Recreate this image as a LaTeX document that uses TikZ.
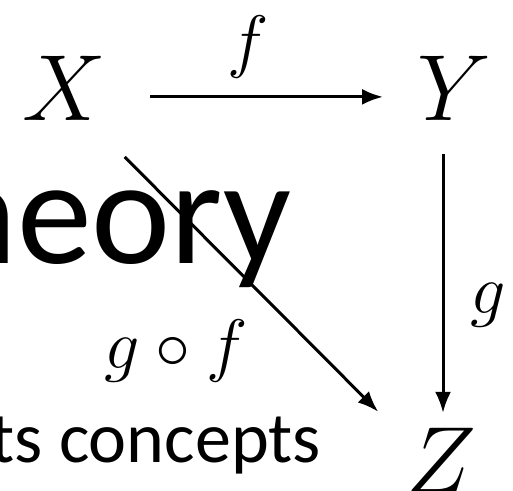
\RequirePackage{fix-cm}
\documentclass[tikz,border=0pt]{standalone}
\usepackage{fontspec}
\newfontfamily\carl{Carlito}
\usetikzlibrary{arrows.meta}
\tikzset{
  obj/.style={inner sep=0pt, anchor=base, font=\fontsize{94}{100}\selectfont},
  lab/.style={inner sep=0pt, anchor=base, font=\fontsize{70}{76}\selectfont},
  bgtext/.style={inner sep=0pt, anchor=base east},
  arr/.style={line width=3pt, -{Latex[length=21pt,width=16pt]}}
}
\begin{document}
\begin{tikzpicture}[x=1pt,y=-1pt]
\useasboundingbox (0,0) rectangle (513,490);
\clip (0,0) rectangle (513,490);
\fill[white] (0,0) rectangle (513,490);
% background slide text
\node[bgtext, font=\carl\fontsize{150}{160}\selectfont] (t1) at (292,263) {heory};
\node[bgtext, font=\carl\fontsize{72}{80}\selectfont] (t2) at (321,462) {ts concepts};
% objects
\node[obj] (X) at (64,120) {$X$};
\node[obj] (Y) at (454,120) {$Y$};
\node[obj] (Z) at (441,492) {$Z$};
% arrows
\draw[arr, shorten <=86pt, shorten >=71pt] ([yshift=-9pt]X.center) -- ([yshift=-9pt]Y.center);
\draw[arr, shorten <=66pt, shorten >=47pt] ([xshift=-11pt]Y.center) -- ([xshift=2pt]Z.center);
\draw[arr, shorten <=86pt, shorten >=89pt] ([yshift=-8pt]X.center) -- ([yshift=-15pt]Z.center);
% labels
\node[lab] (f) at (248,64) {$f$};
\node[lab] (g) at (488,313) {$g$};
\node[lab] (gf) at (176,368) {$g\circ f$};
\end{tikzpicture}
\end{document}
